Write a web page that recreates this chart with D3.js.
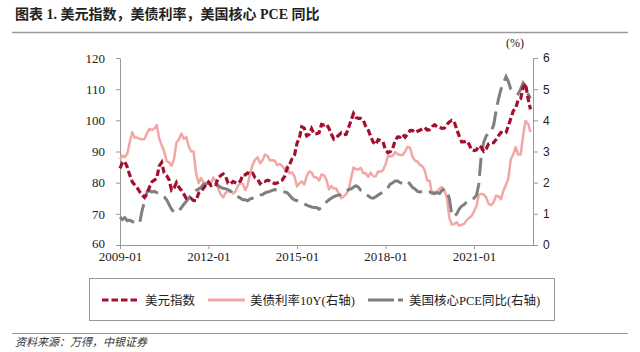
<!DOCTYPE html>
<html>
<head>
<meta charset="utf-8">
<script src="https://cdn.jsdelivr.net/npm/d3@7"></script>
<style>
  body { margin: 0; background: #fff; }
  svg { display: block; }
</style>
</head>
<body>
<svg id="chart" width="640" height="352"></svg>
<script>
// monthly series, 2009-01 .. 2022-12
const startMonth = new Date(2009, 0, 1);

const dxy = [
  84.6, 86.5, 86.8, 85.0, 82.5, 80.3, 79.3, 78.4, 77.1, 76.1, 75.3, 76.6,
  78.6, 80.3, 80.8, 81.4, 85.3, 86.5, 83.2, 82.3, 80.9, 77.6, 78.3, 80.0,
  78.5, 77.5, 76.4, 75.0, 74.8, 74.9, 74.3, 74.2, 76.6, 77.1, 78.2, 79.3,
  80.2, 79.1, 79.6, 79.4, 81.5, 82.3, 82.8, 82.0, 79.8, 79.6, 80.4, 80.0,
  79.8, 80.6, 82.5, 82.5, 83.1, 82.6, 83.0, 81.6, 81.1, 79.7, 80.5, 80.4,
  80.8, 80.5, 80.0, 79.7, 79.9, 80.5, 80.8, 82.0, 84.6, 85.8, 87.7, 88.8,
  92.6, 94.5, 97.9, 97.5, 95.0, 95.5, 97.3, 95.6, 95.7, 96.0, 98.7, 98.5,
  98.8, 97.4, 95.6, 94.0, 94.6, 95.2, 96.0, 95.4, 95.5, 97.7, 100.0, 102.2,
  100.9, 100.6, 100.6, 100.0, 98.1, 96.9, 94.9, 93.0, 92.2, 93.8, 93.5, 93.1,
  90.5, 89.6, 89.9, 91.0, 93.6, 94.7, 94.6, 95.5, 94.6, 95.6, 96.7, 96.8,
  96.1, 96.5, 96.8, 97.3, 97.7, 96.9, 97.0, 98.0, 98.6, 97.9, 97.9, 97.4,
  97.5, 98.7, 99.5, 100.0, 99.6, 97.0, 95.0, 93.1, 93.1, 93.4, 92.3, 90.5,
  90.3, 90.5, 91.8, 91.3, 90.1, 90.9, 92.5, 92.8, 92.8, 93.9, 95.1, 96.1,
  95.8, 96.1, 98.1, 100.6, 103.0, 103.9, 106.6, 106.9, 110.6, 111.7, 107.0, 103.5
];

const ust10y = [
  2.75, 2.87, 2.82, 2.93, 3.29, 3.62, 3.45, 3.45, 3.40, 3.39, 3.40, 3.59,
  3.73, 3.69, 3.73, 3.85, 3.42, 3.20, 3.01, 2.70, 2.65, 2.54, 2.76, 3.29,
  3.39, 3.58, 3.41, 3.46, 3.17, 3.00, 3.00, 2.30, 1.98, 2.15, 2.01, 1.98,
  1.97, 1.97, 2.17, 2.05, 1.80, 1.62, 1.53, 1.68, 1.72, 1.75, 1.65, 1.72,
  1.91, 1.98, 1.96, 1.76, 1.93, 2.30, 2.58, 2.74, 2.81, 2.62, 2.72, 2.90,
  2.86, 2.71, 2.72, 2.71, 2.56, 2.60, 2.54, 2.42, 2.53, 2.30, 2.33, 2.21,
  1.88, 1.98, 2.04, 1.94, 2.20, 2.36, 2.32, 2.17, 2.17, 2.07, 2.26, 2.24,
  2.09, 1.78, 1.89, 1.81, 1.81, 1.64, 1.50, 1.56, 1.63, 1.76, 2.14, 2.49,
  2.43, 2.42, 2.48, 2.30, 2.30, 2.19, 2.32, 2.21, 2.20, 2.36, 2.35, 2.40,
  2.58, 2.86, 2.84, 2.87, 2.98, 2.91, 2.89, 2.89, 3.00, 3.15, 3.12, 2.83,
  2.71, 2.68, 2.57, 2.53, 2.40, 2.07, 2.06, 1.63, 1.70, 1.71, 1.81, 1.86,
  1.76, 1.50, 0.87, 0.66, 0.67, 0.73, 0.62, 0.65, 0.68, 0.79, 0.87, 0.93,
  1.08, 1.26, 1.61, 1.64, 1.62, 1.52, 1.32, 1.28, 1.37, 1.58, 1.56, 1.47,
  1.76, 1.93, 2.13, 2.75, 2.90, 3.14, 2.90, 2.90, 3.52, 3.98, 3.89, 3.62
];

const corePce = [
  0.90, 0.82, 0.88, 0.78, 0.80, 0.75, 0.75, 0.72, 0.70, 1.10, 1.40, 1.70,
  1.75, 1.70, 1.72, 1.68, 1.65, 1.60, 1.55, 1.45, 1.30, 1.15, 1.05, 1.05,
  1.10, 1.20, 1.30, 1.40, 1.50, 1.60, 1.65, 1.75, 1.80, 1.85, 1.95, 1.95,
  2.00, 2.02, 1.98, 2.00, 1.90, 1.85, 1.82, 1.80, 1.78, 1.72, 1.65, 1.60,
  1.55, 1.50, 1.45, 1.45, 1.42, 1.48, 1.50, 1.52, 1.55, 1.60, 1.62, 1.67,
  1.70, 1.72, 1.75, 1.78, 1.75, 1.72, 1.70, 1.70, 1.68, 1.60, 1.50, 1.45,
  1.42, 1.38, 1.35, 1.32, 1.28, 1.25, 1.22, 1.20, 1.20, 1.15, 1.20, 1.28,
  1.38, 1.45, 1.50, 1.55, 1.58, 1.60, 1.62, 1.70, 1.72, 1.78, 1.80, 1.85,
  1.90, 1.85, 1.75, 1.70, 1.62, 1.58, 1.52, 1.50, 1.55, 1.60, 1.65, 1.70,
  1.75, 1.85, 1.95, 2.00, 2.05, 2.05, 2.00, 1.98, 2.02, 2.05, 1.95, 1.85,
  1.80, 1.72, 1.70, 1.72, 1.70, 1.68, 1.70, 1.68, 1.65, 1.68, 1.65, 1.75,
  1.80, 1.70, 1.50, 0.95, 0.92, 1.00, 1.15, 1.25, 1.30, 1.38, 1.45, 1.48,
  1.50, 1.60, 1.95, 2.90, 3.30, 3.50, 3.60, 3.65, 3.85, 4.30, 4.70, 5.00,
  5.20, 5.40, 5.25, 5.00, 4.95, 4.90, 4.85, 5.00, 5.20, 5.10, 4.85, 4.70
];

const leftTicks = [60, 70, 80, 90, 100, 110, 120];
const rightTicks = [0, 1, 2, 3, 4, 5, 6];
const xTickYears = [2009, 2012, 2015, 2018, 2021];

const seriesNames = ["美元指数", "美债利率10Y(右轴)", "美国核心PCE同比(右轴)"];
const titleText = "图表 1. 美元指数，美债利率，美国核心 PCE 同比";
const sourceText = "资料来源：万得，中银证券";

const months = dxy.map((d, i) => d3.timeMonth.offset(startMonth, i));

const serif = "'Liberation Serif', 'Noto Sans CJK SC', serif";
const sans = "'Liberation Sans', Arial, sans-serif";
const cjk = "'Liberation Serif', 'Noto Sans CJK SC', sans-serif";

const red = "#a3102f", pink = "#f2a7a5", grey = "#7f7f7f", axisCol = "#999";

const svg = d3.select("#chart");

// title and rules
svg.append("text")
  .attr("x", 15).attr("y", 19)
  .attr("font-family", cjk).attr("font-weight", "bold")
  .attr("font-size", 14).attr("fill", "#222")
  .text(titleText);

svg.append("line").attr("x1", 12).attr("x2", 628).attr("y1", 32.5).attr("y2", 32.5)
  .attr("stroke", "#999").attr("stroke-width", 1.5);
svg.append("line").attr("x1", 12).attr("x2", 628).attr("y1", 333.5).attr("y2", 333.5)
  .attr("stroke", "#999").attr("stroke-width", 1);

svg.append("text")
  .attr("x", 15).attr("y", 346)
  .attr("font-family", cjk).attr("font-style", "italic")
  .attr("font-size", 11).attr("fill", "#333")
  .text(sourceText);

// scales
const x = d3.scaleTime()
  .domain([startMonth, new Date(2023, 0, 1)])
  .range([120, 533]);

const yL = d3.scaleLinear().domain([60, 120]).range([245, 58]);
const yR = d3.scaleLinear().domain([0, 6]).range([245, 58]);

// axes
const gLeft = svg.append("g").attr("transform", "translate(120,0)")
  .call(d3.axisLeft(yL).tickValues(leftTicks).tickSize(4).tickPadding(11).tickSizeOuter(0));
const gRight = svg.append("g").attr("transform", "translate(533,0)")
  .call(d3.axisRight(yR).tickValues(rightTicks).tickFormat(d3.format("d"))
    .tickSize(5).tickPadding(5).tickSizeOuter(0));
const gBottom = svg.append("g").attr("transform", "translate(0,245)")
  .call(d3.axisBottom(x).tickValues(xTickYears.map(y => new Date(y, 0, 1)))
    .tickFormat(d3.timeFormat("%Y-%m")).tickSize(4).tickPadding(3).tickSizeOuter(0));

[gLeft, gRight, gBottom].forEach(g => {
  g.select(".domain").attr("stroke", axisCol).attr("stroke-width", 1);
  g.selectAll(".tick line").attr("stroke", axisCol);
  g.selectAll(".tick text").attr("fill", "#222");
});
gLeft.selectAll(".tick text").attr("font-family", serif).attr("font-size", 13);
gLeft.selectAll(".tick text").filter(d => d === 60).attr("dy", "0.2em");
gBottom.selectAll(".tick text").attr("font-family", serif).attr("font-size", 13);
gRight.selectAll(".tick text").attr("font-family", sans).attr("font-size", 12);

svg.append("text")
  .attr("x", 515).attr("y", 47)
  .attr("text-anchor", "middle")
  .attr("font-family", serif).attr("font-size", 12).attr("fill", "#222")
  .text("(%)");

// lines
const lineL = d3.line().x((d, i) => x(months[i])).y(d => yL(d));
const lineR = d3.line().x((d, i) => x(months[i])).y(d => yR(d));

svg.append("path").datum(ust10y)
  .attr("fill", "none").attr("stroke", pink).attr("stroke-width", 2.5)
  .attr("stroke-linejoin", "round")
  .attr("d", lineR);

svg.append("path").datum(corePce)
  .attr("fill", "none").attr("stroke", grey).attr("stroke-width", 3)
  .attr("stroke-dasharray", "18,7")
  .attr("d", lineR);

svg.append("path").datum(dxy)
  .attr("fill", "none").attr("stroke", red).attr("stroke-width", 3.2)
  .attr("stroke-dasharray", "6.5,3")
  .attr("d", lineL);

// legend
const legend = svg.append("g");
legend.append("rect")
  .attr("x", 89.5).attr("y", 278.5).attr("width", 465).attr("height", 42)
  .attr("fill", "none").attr("stroke", "#999").attr("stroke-width", 1);

const legendItems = [
  { name: seriesNames[0], color: red, dash: "6.5,3", x1: 102, x2: 139, tx: 145 },
  { name: seriesNames[1], color: pink, dash: null, x1: 208, x2: 245, tx: 250 },
  { name: seriesNames[2], color: grey, dash: "26,4", x1: 368, x2: 403, tx: 409 }
];

legendItems.forEach(it => {
  legend.append("line")
    .attr("x1", it.x1).attr("x2", it.x2).attr("y1", 300).attr("y2", 300)
    .attr("stroke", it.color).attr("stroke-width", 3)
    .attr("stroke-dasharray", it.dash);
  legend.append("text")
    .attr("x", it.tx).attr("y", 304.5)
    .attr("font-family", cjk).attr("font-size", 12.5).attr("fill", "#222")
    .text(it.name);
});
</script>
</body>
</html>
